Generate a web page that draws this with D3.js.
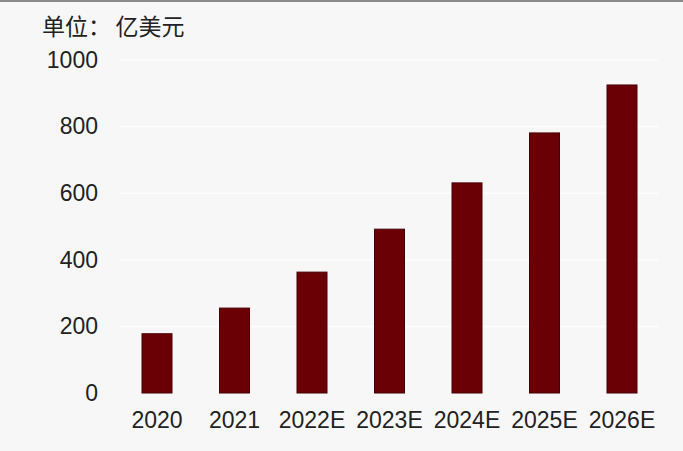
<!DOCTYPE html>
<html>
<head>
<meta charset="utf-8">
<script src="https://cdn.jsdelivr.net/npm/d3@7"></script>
<style>
  html, body { margin: 0; padding: 0; background: #f7f7f7; }
  svg { display: block; }
</style>
</head>
<body>
<svg id="chart" width="683" height="451"></svg>
<script>
// Market size, 100 million USD
const categories = ["2020", "2021", "2022E", "2023E", "2024E", "2025E", "2026E"];
const values = [178, 255, 363, 492, 631, 781, 925];
const yTicks = [0, 200, 400, 600, 800, 1000];
const unitLabel = "单位：\u2009亿美元";

const svg = d3.select("#chart");
const W = 683, H = 451;

svg.append("rect").attr("width", W).attr("height", H).attr("fill", "#f7f7f7");
// thin rule along the top edge
svg.append("rect").attr("x", 0).attr("y", 0).attr("width", W).attr("height", 2).attr("fill", "#8a8a8a");

const x = d3.scaleBand()
  .domain(categories)
  .range([118.25, 660.75])
  .paddingInner(0.613)
  .paddingOuter(0.3065);

const y = d3.scaleLinear().domain([0, 1000]).range([393, 60]);

// faint gridlines
svg.append("g")
  .selectAll("line")
  .data(yTicks.slice(1))
  .join("line")
  .attr("x1", 120).attr("x2", 658)
  .attr("y1", d => y(d)).attr("y2", d => y(d))
  .attr("stroke", "#fdfdfd").attr("stroke-width", 1.5);

// y axis labels
const yAxis = d3.axisLeft(y).tickValues(yTicks).tickFormat(d3.format("d")).tickSize(0).tickPadding(0);
const gy = svg.append("g").attr("transform", "translate(98,0)").call(yAxis);
gy.select(".domain").remove();
gy.selectAll("text")
  .attr("font-family", "Liberation Sans, Arial, sans-serif")
  .attr("font-size", 23)
  .attr("fill", "#222");

// bars
svg.append("g")
  .selectAll("rect")
  .data(values)
  .join("rect")
  .attr("x", (d, i) => x(categories[i]))
  .attr("width", x.bandwidth())
  .attr("y", d => y(d))
  .attr("height", d => y(0) - y(d))
  .attr("fill", "#6a0005")
  .attr("stroke", "#480007")
  .attr("stroke-width", 1);

// x axis labels
const xAxis = d3.axisBottom(x).tickSize(0).tickPadding(0);
const gx = svg.append("g").attr("transform", "translate(0,412)").call(xAxis);
gx.select(".domain").remove();
gx.selectAll("text")
  .attr("font-family", "Liberation Sans, Arial, sans-serif")
  .attr("font-size", 23)
  .attr("fill", "#222");

// unit caption
svg.append("text")
  .attr("x", 42).attr("y", 35)
  .attr("font-family", "Noto Sans CJK SC, sans-serif")
  .attr("font-size", 23)
  .attr("fill", "#222")
  .text(unitLabel);
</script>
</body>
</html>
